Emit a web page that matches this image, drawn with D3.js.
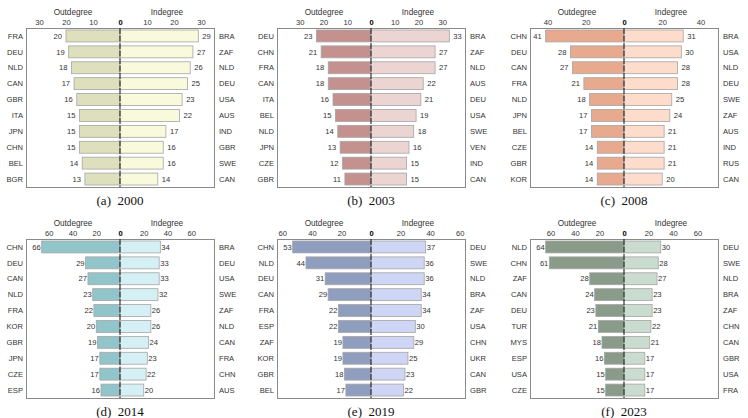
<!DOCTYPE html>
<meta charset="utf-8">
<head>
<style type='text/css'>
  body {
    margin: 0;
    background: #fff;
  }
  .lbl {
    font-family: 'Liberation Sans', Arial, sans-serif;
    font-size: 7.6px;
    fill: #333;
  }
  .title {
    font-family: 'Liberation Sans', Arial, sans-serif;
    font-size: 8.2px;
    fill: #333;
  }
  .caption {
    font-family: 'Liberation Serif', 'Times New Roman', serif;
    font-size: 13px;
    fill: #111;
  }
</style>
</head>
<body>
<div id="chart"></div>
<script src="https://d3js.org/d3.v7.min.js"></script>
<script>
// panel captions
var tags = ["(a)", "(b)", "(c)", "(d)", "(e)", "(f)"];
var years = ["2000", "2003", "2008", "2014", "2019", "2023"];

// outdegree, top 10 per year
var outNames = [
  ["FRA", "DEU", "NLD", "CAN", "GBR", "ITA", "JPN", "CHN", "BEL", "BGR"],
  ["DEU", "CHN", "FRA", "CAN", "ITA", "BEL", "NLD", "JPN", "CZE", "GBR"],
  ["CHN", "DEU", "CAN", "FRA", "NLD", "JPN", "BEL", "CZE", "GBR", "KOR"],
  ["CHN", "DEU", "CAN", "NLD", "FRA", "KOR", "GBR", "JPN", "CZE", "ESP"],
  ["CHN", "NLD", "DEU", "CAN", "FRA", "ESP", "ZAF", "KOR", "GBR", "BEL"],
  ["NLD", "CHN", "ZAF", "CAN", "DEU", "TUR", "MYS", "ESP", "USA", "CZE"]
];
var outValues = [
  [20, 19, 18, 17, 16, 15, 15, 15, 14, 13],
  [23, 21, 18, 18, 16, 15, 14, 13, 12, 11],
  [41, 28, 27, 21, 18, 17, 17, 14, 14, 14],
  [66, 29, 27, 23, 22, 20, 19, 17, 17, 16],
  [53, 44, 31, 29, 22, 22, 19, 19, 18, 17],
  [64, 61, 28, 24, 23, 21, 18, 16, 15, 15]
];

// indegree, top 10 per year
var inNames = [
  ["BRA", "ZAF", "NLD", "DEU", "USA", "AUS", "IND", "GBR", "SWE", "CAN"],
  ["BRA", "ZAF", "NLD", "AUS", "DEU", "USA", "SWE", "VEN", "IND", "CAN"],
  ["BRA", "USA", "NLD", "DEU", "SWE", "ZAF", "AUS", "IND", "RUS", "CAN"],
  ["BRA", "DEU", "USA", "SWE", "ZAF", "NLD", "CAN", "FRA", "CHN", "AUS"],
  ["DEU", "SWE", "NLD", "BRA", "ZAF", "USA", "CHN", "UKR", "CAN", "GBR"],
  ["DEU", "SWE", "NLD", "BRA", "ZAF", "CHN", "CAN", "GBR", "USA", "FRA"]
];
var inValues = [
  [29, 27, 26, 25, 23, 22, 17, 16, 16, 14],
  [33, 27, 27, 22, 21, 19, 18, 16, 15, 15],
  [31, 30, 28, 28, 25, 24, 21, 21, 21, 20],
  [34, 33, 33, 32, 26, 26, 24, 23, 22, 20],
  [37, 36, 36, 34, 34, 30, 29, 25, 23, 22],
  [30, 28, 27, 23, 23, 22, 21, 17, 17, 17]
];

// axis ticks (negative = outdegree side)
var tickSets = [
  [-30, -20, -10, 0, 10, 20, 30],
  [-30, -20, -10, 0, 10, 20, 30],
  [-40, -20, 0, 20, 40],
  [-60, -40, -20, 0, 20, 40, 60],
  [-60, -40, -20, 0, 20, 40, 60],
  [-60, -40, -20, 0, 20, 40, 60]
];

var outColors = ["#dedfbd", "#c4918f", "#e8aa8e", "#92c5c9", "#8f9ebe", "#8a9b8a"];
var inColors  = ["#f9f9dc", "#ecd4d2", "#fddccc", "#d4f0f5", "#cfd5f4", "#cadbcf"];
var labelGap  = [4, 4, 4, 1, 1, 1];

var width = 748, height = 418;
var boxLefts = [26, 277, 530],
    boxTops = [28, 239],
    boxW = 188,
    boxH = 159;

var svg = d3.select("#chart").append("svg")
    .attr("width", width)
    .attr("height", height);

years.forEach(function(year, p) {
  var x0 = boxLefts[p % 3],
      y0 = boxTops[Math.floor(p / 3)];

  var maxV = d3.max(outValues[p].concat(inValues[p])) * 1.2;

  var x = d3.scaleLinear()
      .domain([-maxV, maxV])
      .range([x0, x0 + boxW]);

  var y = d3.scaleBand()
      .domain(d3.range(10))
      .range([y0, y0 + boxH])
      .paddingInner(0.25)
      .paddingOuter(0.125);

  var g = svg.append("g");

  // frame
  g.append("rect")
      .attr("x", x0 + 0.5)
      .attr("y", y0 + 0.5)
      .attr("width", boxW)
      .attr("height", boxH)
      .attr("fill", "none")
      .attr("stroke", "#8a8a8a")
      .attr("stroke-width", 1);

  // outdegree bars
  g.selectAll(".outbar")
      .data(outValues[p])
    .enter().append("rect")
      .attr("x", function(d) { return x(-d); })
      .attr("y", function(d, i) { return y(i); })
      .attr("width", function(d) { return x(0) - x(-d); })
      .attr("height", y.bandwidth())
      .attr("fill", outColors[p])
      .attr("stroke", "#a5a5a5")
      .attr("stroke-width", 0.8);

  // indegree bars
  g.selectAll(".inbar")
      .data(inValues[p])
    .enter().append("rect")
      .attr("x", x(0))
      .attr("y", function(d, i) { return y(i); })
      .attr("width", function(d) { return x(d) - x(0); })
      .attr("height", y.bandwidth())
      .attr("fill", inColors[p])
      .attr("stroke", "#a5a5a5")
      .attr("stroke-width", 0.8);

  // value labels
  g.selectAll(".outval")
      .data(outValues[p])
    .enter().append("text")
      .attr("class", "lbl")
      .attr("x", function(d) { return x(-d) - labelGap[p]; })
      .attr("y", function(d, i) { return y(i) + y.bandwidth() / 2; })
      .attr("dy", "0.35em")
      .attr("text-anchor", "end")
      .text(function(d) { return d; });

  g.selectAll(".inval")
      .data(inValues[p])
    .enter().append("text")
      .attr("class", "lbl")
      .attr("x", function(d) { return x(d) + labelGap[p]; })
      .attr("y", function(d, i) { return y(i) + y.bandwidth() / 2; })
      .attr("dy", "0.35em")
      .attr("text-anchor", "start")
      .text(function(d) { return d; });

  // country names either side of the frame
  g.selectAll(".outname")
      .data(outNames[p])
    .enter().append("text")
      .attr("class", "lbl")
      .attr("x", x0 - 3)
      .attr("y", function(d, i) { return y(i) + y.bandwidth() / 2; })
      .attr("dy", "0.35em")
      .attr("text-anchor", "end")
      .text(function(d) { return d; });

  g.selectAll(".inname")
      .data(inNames[p])
    .enter().append("text")
      .attr("class", "lbl")
      .attr("x", x0 + boxW + 5)
      .attr("y", function(d, i) { return y(i) + y.bandwidth() / 2; })
      .attr("dy", "0.35em")
      .attr("text-anchor", "start")
      .text(function(d) { return d; });

  // zero line
  g.append("line")
      .attr("x1", x(0))
      .attr("x2", x(0))
      .attr("y1", y0)
      .attr("y2", y0 + boxH)
      .attr("stroke", "#222")
      .attr("stroke-width", 1.1)
      .attr("stroke-dasharray", "6,1.5");

  // top axis: labels only
  var axis = g.append("g")
      .attr("transform", "translate(0," + (y0 - 3) + ")")
      .call(d3.axisTop(x)
        .tickValues(tickSets[p])
        .tickSize(0)
        .tickPadding(0)
        .tickFormat(function(d) { return Math.abs(d); }));
  axis.select(".domain").remove();
  axis.selectAll("text")
      .attr("class", "lbl")
      .attr("fill", null)
      .style("font-weight", function(d) { return d === 0 ? "bold" : null; })
      .style("fill", function(d) { return d === 0 ? "#000" : null; });

  // side titles
  g.append("text")
      .attr("class", "title")
      .attr("x", (x0 + x(0)) / 2)
      .attr("y", y0 - 13)
      .attr("text-anchor", "middle")
      .text("Outdegree");

  g.append("text")
      .attr("class", "title")
      .attr("x", (x(0) + x0 + boxW) / 2)
      .attr("y", y0 - 13)
      .attr("text-anchor", "middle")
      .text("Indegree");

  // caption
  g.append("text")
      .attr("class", "caption")
      .attr("x", x(0))
      .attr("y", y0 + boxH + 18)
      .attr("text-anchor", "middle")
      .attr("xml:space", "preserve")
      .style("white-space", "pre")
      .text(tags[p] + "  " + year);
});
</script>
</body>
